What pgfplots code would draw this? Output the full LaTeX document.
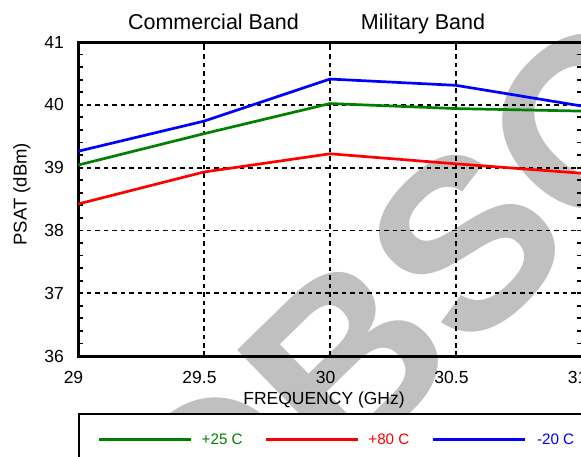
\documentclass[border=0pt]{standalone}
\usepackage{fontspec}
\setmainfont{Liberation Sans}
\usepackage{pgfplots}
\pgfplotsset{compat=1.18}

\definecolor{tgreen}{RGB}{0,128,0}
\definecolor{tred}{RGB}{255,0,0}
\definecolor{tblue}{RGB}{0,0,255}
\definecolor{wmgray}{RGB}{192,192,192}

\begin{document}
\begin{tikzpicture}[x=1pt,y=1pt]
\path[use as bounding box] (0,0) rectangle (581,456);
\clip (0,0) rectangle (581,456);

% diagonal status stamp behind the chart
\node[anchor=base west, rotate=44.2, text=wmgray, inner sep=0pt,
      font=\fontsize{241}{241}\selectfont\bfseries] at (207,-155) {OBSOLETE};

\begin{axis}[
  at={(78pt,100pt)}, anchor=south west,
  scale only axis, width=504pt, height=314pt,
  xmin=29, xmax=31, ymin=36, ymax=41,
  xtick={29,29.5,30,30.5,31}, xticklabels={29,29.5,30,30.5,31},
  ytick={36,37,38,39,40,41}, yticklabels={36,37,38,39,40,41},
  minor y tick num=4,
  grid=major,
  major grid style={black, line width=1.8pt, dash pattern=on 4.5pt off 4pt},
  axis line style={black, line width=3pt},
  tick style={black, line width=1.8pt},
  major tick length=5pt, minor tick length=5pt,
  tick align=inside,
  ticklabel style={font=\fontsize{17.5}{20}\selectfont, inner sep=0pt},
  xticklabel style={anchor=north, yshift=-15pt, xshift=-4.5pt},
  yticklabel style={anchor=east, xshift=-14pt},
  legend columns=3,
  legend style={at={(0,-0.1806)}, anchor=north west, draw=black, line width=2pt,
    inner xsep=19pt, inner ysep=19.7pt, column sep=7.5pt,
    /tikz/every even column/.append style={column sep=20.5pt},
    font=\fontsize{15.2}{17}\selectfont, nodes={inner sep=0pt}},
  legend image code/.code={\draw[#1, line width=2.7pt] (0pt,0pt) -- (92pt,0pt);},
]
\addplot[tgreen, line width=2.7pt, line join=round]
  coordinates {(29,39.04)(29.5,39.54)(30,40.02)(30.5,39.94)(31,39.90)};
\addlegendentry{\makebox[44pt][c]{\textcolor{tgreen}{+25 C}}}
\addplot[tred, line width=2.7pt, line join=round]
  coordinates {(29,38.42)(29.5,38.93)(30,39.22)(30.5,39.06)(31,38.91)};
\addlegendentry{\makebox[44pt][c]{\textcolor{tred}{+80 C}}}
\addplot[tblue, line width=2.7pt, line join=round]
  coordinates {(29,39.26)(29.5,39.74)(30,40.41)(30.5,40.31)(31,39.98)};
\addlegendentry{\makebox[44pt][c]{\textcolor{tblue}{-20 C}}}
\end{axis}

\node[anchor=base, font=\fontsize{21.5}{24}\selectfont] at (213.5,426) {Commercial Band};
\node[anchor=base, font=\fontsize{21.5}{24}\selectfont] at (423,426) {Military Band};
\node[anchor=base, font=\fontsize{17.5}{20}\selectfont] at (324,52) {FREQUENCY (GHz)};
\node[anchor=base, rotate=90, font=\fontsize{18.5}{20}\selectfont] at (26.7,261.8) {PSAT (dBm)};
\end{tikzpicture}
\end{document}
